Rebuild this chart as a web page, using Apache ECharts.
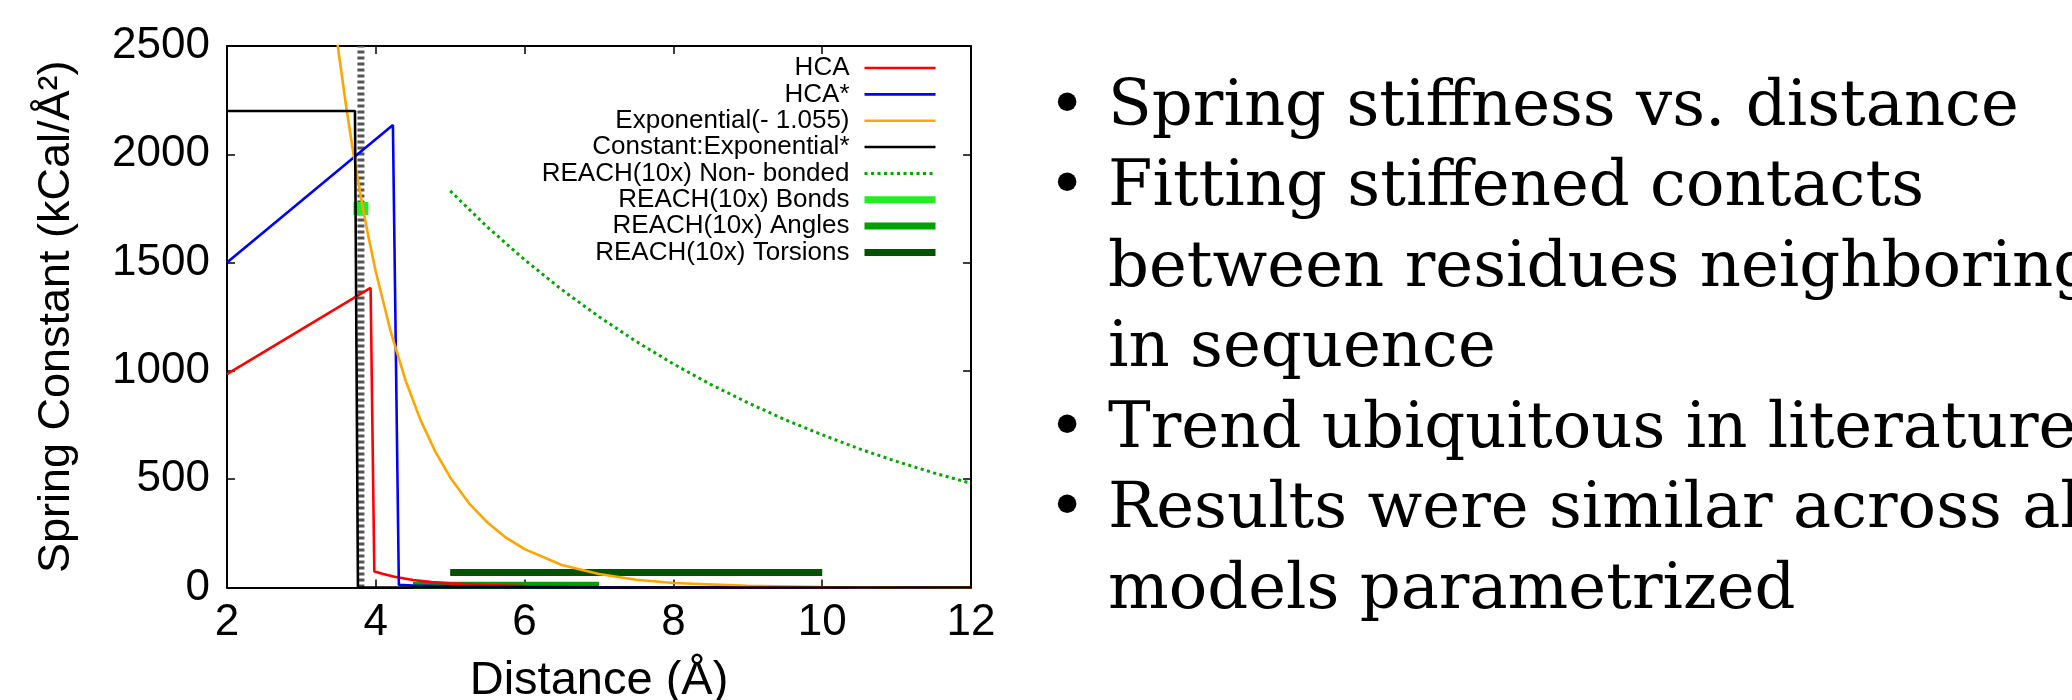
<!DOCTYPE html>
<html>
<head>
<meta charset="utf-8">
<script src="https://cdn.jsdelivr.net/npm/echarts@6.0.0/dist/echarts.min.js"></script>
<style>
html,body{margin:0;padding:0;background:#fff;}
#chart{width:2072px;height:700px;}
</style>
</head>
<body>
<div id="chart"></div>
<script>
// ---- data ----
const xTicks = [2, 4, 6, 8, 10, 12];
const yTicks = [0, 500, 1000, 1500, 2000, 2500];

const hcaX = [2, 3.93, 3.98, 4.1, 4.25, 4.5, 4.75, 5, 5.5, 6, 7, 8, 10, 12];
const hcaY = [985, 1383, 74, 62, 50, 35, 25, 19, 11, 6.3, 2.5, 1.1, 0.3, 0.1];

const hcaStarX = [2, 4.23, 4.31, 4.5, 5, 6, 8, 12];
const hcaStarY = [1500, 2135, 12, 9, 5, 2, 0.3, 0];

const expX = [3.4, 3.5, 3.6, 3.7, 3.8, 3.9, 4.0, 4.2, 4.4, 4.6, 4.8, 5.0, 5.25, 5.5, 5.75, 6.0, 6.5, 7.0, 7.5, 8.0, 9.0, 10, 11, 12];
const expY = [2746, 2471, 2224, 2001, 1801, 1621, 1458, 1181, 956, 774, 627, 508, 390, 300, 230, 177, 104, 62, 36, 21, 7.5, 2.6, 0.9, 0.3];

const constX = [2, 3.72, 3.76, 12];
const constY = [2200, 2200, 0, 0];

const nbX = [5, 5.5, 6, 6.5, 7, 7.5, 8, 8.5, 9, 9.5, 10, 10.5, 11, 11.5, 12];
const nbY = [1831, 1664, 1513, 1375, 1250, 1136, 1032, 938, 853, 775, 705, 640, 582, 529, 481];

const bondsX = [3.7, 3.9];
const bondsY = [1750, 1750];

const anglesX = [4.5, 7.0];
const anglesY = [10, 10];

const torsX = [5.0, 10.0];
const torsY = [69, 69];

const markX = [3.8, 3.8];
const markY = [0, 2500];

const seriesNames = [
  'HCA', 'HCA*', 'Exponential(- 1.055)', 'Constant:Exponential*',
  'REACH(10x) Non- bonded', 'REACH(10x) Bonds', 'REACH(10x) Angles', 'REACH(10x) Torsions'
];

const bullets = [
  {bullet: true,  text: 'Spring stiffness vs. distance'},
  {bullet: true,  text: 'Fitting stiffened contacts'},
  {bullet: false, text: 'between residues neighboring'},
  {bullet: false, text: 'in sequence'},
  {bullet: true,  text: 'Trend ubiquitous in literature'},
  {bullet: true,  text: 'Results were similar across all'},
  {bullet: false, text: 'models parametrized'}
];

// ---- build ----
const zip = (xs, ys) => xs.map((x, i) => [x, ys[i]]);
const FONT = '"Liberation Sans", Arial, Helvetica, sans-serif';

function lineSeries(name, xs, ys, color, width, extra) {
  return Object.assign({
    type: 'line',
    name: name,
    data: zip(xs, ys),
    symbol: 'none',
    showSymbol: false,
    animation: false,
    silent: true,
    lineStyle: {color: color, width: width, cap: 'butt'},
    itemStyle: {color: color},
    z: 3
  }, extra || {});
}

const series = [
  lineSeries('', markX, markY, '#555555', 7, {lineStyle: {color: '#555555', width: 7, type: [3, 3], cap: 'butt'}, z: 1}),
  lineSeries(seriesNames[4], nbX, nbY, '#00a800', 3, {lineStyle: {color: '#00a800', width: 3, type: [3, 3.5], cap: 'butt'}, z: 2}),
  lineSeries(seriesNames[5], bondsX, bondsY, '#22ee22', 13, {z: 2}),
  lineSeries(seriesNames[6], anglesX, anglesY, '#00a000', 7, {z: 2}),
  lineSeries(seriesNames[7], torsX, torsY, '#005200', 7, {z: 2}),
  lineSeries(seriesNames[0], hcaX, hcaY, '#ff0000', 2.6),
  lineSeries(seriesNames[1], hcaStarX, hcaStarY, '#0000ff', 2.6),
  lineSeries(seriesNames[2], expX, expY, '#ffa500', 2.6),
  lineSeries(seriesNames[3], constX, constY, '#000000', 2.6)
];

const legendWidths = [2.6, 2.6, 2.6, 2.6, 3, 7, 7, 7];

const axisCommon = {
  type: 'value',
  axisLine: {show: true, onZero: false, lineStyle: {color: '#000', width: 2}},
  axisTick: {show: true, inside: true, length: 8, lineStyle: {color: '#000', width: 1.5}},
  splitLine: {show: false}
};

const textGraphics = [];
const lineStep = 80.5;
bullets.forEach((b, i) => {
  const y = 108 + i * lineStep;
  if (b.bullet) {
    textGraphics.push({
      type: 'text', x: 1067, y: y, silent: true,
      style: {text: '\u2022', font: '64px "DejaVu Serif", serif', fill: '#000', align: 'center', verticalAlign: 'middle'}
    });
  }
  textGraphics.push({
    type: 'text', x: 1108, y: y, silent: true,
    style: {text: b.text, font: '64px "DejaVu Serif", serif', fill: '#000', align: 'left', verticalAlign: 'middle'}
  });
});

const option = {
  backgroundColor: '#ffffff',
  animation: false,
  textStyle: {fontFamily: FONT, color: '#000'},
  grid: {left: 227, right: 1101, top: 46, bottom: 112.5, containLabel: false, outerBoundsMode: 'none'},
  xAxis: [
    Object.assign({}, axisCommon, {
      min: 2, max: 12, interval: 2, position: 'bottom',
      axisLabel: {show: true, fontSize: 44, color: '#000', margin: 13, fontFamily: FONT,
        formatter: v => (xTicks.indexOf(v) >= 0 ? String(v) : '')},
      name: 'Distance (\u00c5)', nameLocation: 'middle', nameGap: 70,
      nameTextStyle: {fontSize: 47, color: '#000', fontFamily: FONT}
    }),
    Object.assign({}, axisCommon, {
      min: 2, max: 12, interval: 2, position: 'top',
      axisLabel: {show: false}
    })
  ],
  yAxis: [
    Object.assign({}, axisCommon, {
      min: 0, max: 2500, interval: 500, position: 'left',
      axisLabel: {show: true, fontSize: 44, color: '#000', margin: 17, fontFamily: FONT,
        formatter: v => (yTicks.indexOf(v) >= 0 ? String(v) : '')},
      name: 'Spring Constant (kCal/\u00c5\u00b2)', nameLocation: 'middle', nameRotate: 90, nameGap: 148,
      nameTextStyle: {fontSize: 45, color: '#000', fontFamily: FONT}
    }),
    Object.assign({}, axisCommon, {
      min: 0, max: 2500, interval: 500, position: 'right',
      axisLabel: {show: false}
    })
  ],
  legend: {
    show: true,
    orient: 'vertical',
    align: 'right',
    right: 1133,
    top: 55,
    padding: 0,
    itemWidth: 71,
    itemHeight: 14,
    itemGap: 0.35,
    selectedMode: false,
    itemStyle: {opacity: 0, borderWidth: 0},
    lineStyle: {width: 'inherit'},
    textStyle: {fontSize: 26, lineHeight: 24, color: '#000', fontFamily: FONT, padding: [0, 10, 0, 0]},
    data: seriesNames.map((n, i) => ({name: n, lineStyle: {width: legendWidths[i]}}))
  },
  series: series,
  graphic: textGraphics
};

const chart = echarts.init(document.getElementById('chart'), null, {renderer: 'canvas', width: 2072, height: 700});
chart.setOption(option);
</script>
</body>
</html>
